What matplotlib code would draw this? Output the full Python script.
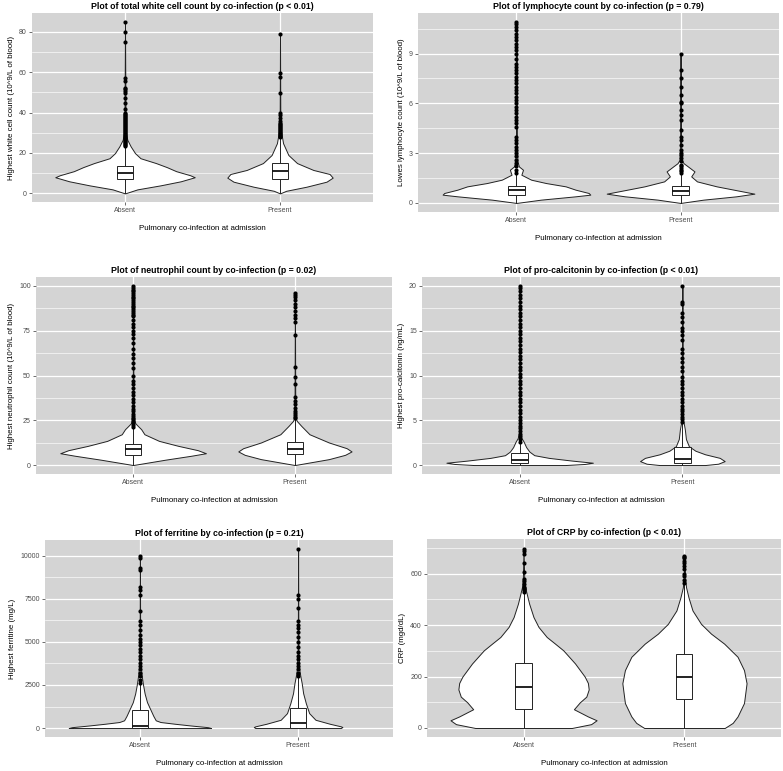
import matplotlib
matplotlib.use("Agg")
import matplotlib.pyplot as plt
import numpy as np

plt.rcParams['font.family'] = ['Liberation Sans', 'DejaVu Sans']

categories = ["Absent", "Present"]
xlabel_text = "Pulmonary co-infection at admission"

# ---------------- Panel 1: white cell count ----------------
wbc_title = "Plot of total white cell count by co-infection (p < 0.01)"
wbc_ylabel = "Highest white cell count (10^9/L of blood)"
wbc_ticks = [0, 20, 40, 60, 80]
wbc_abs_vy = [0, 1, 2, 4, 6, 8, 9, 11, 13, 15, 17.4, 19.9, 23.2, 26.5, 30, 40, 85]
wbc_abs_vw = [0, 0.04, 0.08, 0.23, 0.36, 0.45, 0.42, 0.33, 0.27, 0.2, 0.1, 0.065, 0.037, 0.015, 0.006, 0.003, 0]
wbc_pre_vy = [0, 1.3, 3.3, 5.8, 7.8, 9.6, 11.6, 15, 19, 24.8, 30, 32.3, 40, 79]
wbc_pre_vw = [0, 0.04, 0.17, 0.3, 0.34, 0.32, 0.215, 0.11, 0.054, 0.02, 0.008, 0.004, 0.002, 0]
wbc_abs_box = [0.2, 7.0, 9.9, 13.6, 23.2]
wbc_pre_box = [0.2, 7.1, 11.1, 15.2, 27.5]
wbc_abs_out = [23.5, 24, 24.5, 25, 25.5, 26, 26.5, 27, 27.5, 28, 28.5, 29, 29.5, 30, 30.5, 31, 31.5,
               32, 32.5, 33, 33.5, 34, 34.5, 35, 35.5, 36, 36.5, 37, 37.5, 38, 38.5, 39, 39.5, 40,
               42, 44.5, 47, 49.5, 50.5, 51.5, 52, 55.5, 57, 75, 80, 85]
wbc_pre_out = [28, 28.5, 29, 29.5, 30, 30.5, 31, 31.5, 32, 32.5, 33, 33.5, 34, 34.5, 35, 36, 37.5,
               39, 40, 49.5, 57.5, 59.5, 79]

# ---------------- Panel 2: lymphocyte count ----------------
lym_title = "Plot of lymphocyte count by co-infection (p = 0.79)"
lym_ylabel = "Lowes lymphocyte count (10^9/L of blood)"
lym_ticks = [0, 3, 6, 9]
lym_abs_vy = [0, 0.2, 0.4, 0.5, 0.6, 0.8, 1.0, 1.2, 1.4, 1.7, 2.0, 2.2, 2.5, 4, 10.9]
lym_abs_vw = [0, 0.15, 0.36, 0.45, 0.44, 0.36, 0.3, 0.18, 0.09, 0.03, 0.04, 0.015, 0.006, 0.002, 0]
lym_pre_vy = [0, 0.2, 0.4, 0.56, 0.77, 1.0, 1.3, 1.6, 1.9, 2.2, 2.4, 2.6, 4, 9]
lym_pre_vw = [0, 0.14, 0.34, 0.45, 0.34, 0.22, 0.1, 0.065, 0.085, 0.045, 0.018, 0.006, 0.002, 0]
lym_abs_box = [0.0, 0.5, 0.77, 1.0, 1.75]
lym_pre_box = [0.0, 0.5, 0.7, 1.0, 1.75]
lym_abs_out = [1.8, 2.0, 2.2, 2.4, 2.6, 2.8, 3.0, 3.2, 3.4, 3.6, 3.8, 4.0, 4.6, 4.8, 5.0, 5.2, 5.4,
               5.6, 5.8, 6.0, 6.2, 6.4, 6.6, 6.8, 7.0, 7.2, 7.4, 7.6, 7.8, 8.0, 8.2, 8.4, 8.7, 9.0,
               9.2, 9.4, 9.6, 9.8, 10.0, 10.2, 10.4, 10.6, 10.8, 10.9]
lym_pre_out = [1.8, 1.9, 2.0, 2.1, 2.2, 2.3, 2.5, 2.7, 2.9, 3.0, 3.2, 3.5, 3.8, 4.0, 4.4, 5.0, 5.3,
               5.6, 6.0, 6.1, 6.5, 7.0, 7.5, 8.0, 9.0]

# ---------------- Panel 3: neutrophil count ----------------
neu_title = "Plot of neutrophil count by co-infection (p = 0.02)"
neu_ylabel = "Highest neutrophil count (10^9/L of blood)"
neu_ticks = [0, 25, 50, 75, 100]
neu_abs_vy = [0, 0.9, 3, 5.2, 6.6, 8.3, 10.7, 13.5, 17.2, 20, 21.8, 23.3, 25.5, 40, 100]
neu_abs_vw = [0, 0.06, 0.2, 0.36, 0.45, 0.4, 0.28, 0.16, 0.07, 0.05, 0.03, 0.014, 0.006, 0.002, 0]
neu_pre_vy = [0, 1.1, 3.3, 5.7, 7.6, 9.4, 12.6, 17.2, 21.8, 24.6, 26.4, 40, 96]
neu_pre_vw = [0, 0.07, 0.21, 0.31, 0.35, 0.32, 0.21, 0.09, 0.04, 0.012, 0.004, 0.002, 0]
neu_abs_box = [0.0, 5.7, 8.7, 12.0, 21.0]
neu_pre_box = [0.0, 5.9, 9.2, 13.1, 25.0]
neu_abs_out = [21.5, 22.5, 23.5, 24.5, 25.5, 26.5, 27.5, 28.5, 30, 31.5, 33, 35, 37, 39, 41, 43, 45,
               47, 50, 54, 57, 60, 62, 65, 68, 71, 73, 75, 77, 79, 81, 83, 84, 85, 86, 87, 88, 89,
               90, 91, 92, 93, 94, 95, 96, 97, 98, 99, 100]
neu_pre_out = [26, 27, 28, 29, 30, 32, 34, 36, 38, 45, 49, 55, 72.5, 80, 82, 84, 86, 88, 90, 92, 94,
               95, 96]

# ---------------- Panel 4: pro-calcitonin ----------------
pct_title = "Plot of pro-calcitonin by co-infection (p < 0.01)"
pct_ylabel = "Highest pro-calcitonin (ng/mL)"
pct_ticks = [0, 5, 10, 15, 20]
pct_abs_vy = [0, 0.12, 0.26, 0.5, 0.8, 1.1, 1.5, 2.0, 2.6, 3.0, 3.5, 6, 20]
pct_abs_vw = [0.28, 0.4, 0.45, 0.32, 0.18, 0.09, 0.06, 0.04, 0.025, 0.012, 0.005, 0.002, 0]
pct_pre_vy = [0, 0.15, 0.44, 0.8, 1.2, 1.6, 2.1, 2.9, 4.0, 4.7, 5.4, 8, 20]
pct_pre_vw = [0.14, 0.22, 0.26, 0.23, 0.14, 0.08, 0.04, 0.022, 0.015, 0.008, 0.002, 0.001, 0]
pct_abs_box = [0.0, 0.18, 0.52, 1.3, 2.5]
pct_pre_box = [0.0, 0.18, 0.63, 2.0, 4.7]
pct_abs_out = [2.6, 2.9, 3.2, 3.5, 3.8, 4.1, 4.4, 4.7, 5.0, 5.4, 5.8, 6.2, 6.6, 7.0, 7.4, 7.8, 8.2,
               8.6, 9.0, 9.4, 9.8, 10.2, 10.6, 11.0, 11.4, 11.8, 12.2, 12.6, 13.0, 13.4, 13.8, 14.2,
               14.6, 15.0, 15.4, 15.8, 16.2, 16.6, 17.0, 17.4, 17.8, 18.2, 18.6, 19.0, 19.4, 19.8, 20.0]
pct_pre_out = [4.8, 5.1, 5.4, 5.7, 6.0, 6.3, 6.6, 7.0, 7.4, 7.8, 8.2, 8.6, 9.0, 9.4, 9.8, 10.5, 11,
               11.5, 12, 12.5, 13, 14, 14.5, 15, 15.3, 16, 16.5, 17, 18, 18.2, 20]

# ---------------- Panel 5: ferritine ----------------
fer_title = "Plot of ferritine by co-infection (p = 0.21)"
fer_ylabel = "Highest ferritine (mg/L)"
fer_ticks = [0, 2500, 5000, 7500, 10000]
fer_abs_vy = [0, 50, 150, 250, 350, 450, 700, 1000, 1500, 2000, 2500, 3000, 3500, 4500, 10000]
fer_abs_vw = [0.45, 0.43, 0.32, 0.22, 0.13, 0.1, 0.085, 0.07, 0.045, 0.03, 0.02, 0.012, 0.006, 0.002, 0]
fer_pre_vy = [0, 60, 100, 250, 480, 865, 1440, 2020, 2600, 2980, 3365, 4500, 10400]
fer_pre_vw = [0.27, 0.28, 0.27, 0.2, 0.11, 0.07, 0.049, 0.032, 0.023, 0.015, 0.008, 0.002, 0]
fer_abs_box = [0, 20, 100, 1040, 2570]
fer_pre_box = [0, 20, 290, 1170, 2900]
fer_abs_out = [2600, 2800, 3000, 3200, 3400, 3600, 3800, 4000, 4200, 4400, 4600, 4800, 5000, 5200,
               5400, 5700, 6000, 6200, 6800, 7700, 8000, 8200, 9200, 9300, 9900, 10000]
fer_pre_out = [3000, 3200, 3400, 3600, 3800, 4000, 4200, 4400, 4700, 5000, 5300, 5600, 5800, 6000,
               6200, 7000, 7500, 7700, 10400]

# ---------------- Panel 6: CRP ----------------
crp_title = "Plot of CRP by co-infection (p < 0.01)"
crp_ylabel = "CRP (mgd/dL)"
crp_ticks = [0, 200, 400, 600]
crp_abs_vy = [0, 15, 30, 45, 73, 100, 122, 150, 175, 200, 251, 302, 328, 354, 393, 431, 483, 521, 547, 586, 700]
crp_abs_vw = [0.3, 0.42, 0.454, 0.4, 0.313, 0.35, 0.39, 0.405, 0.4, 0.38, 0.32, 0.247, 0.196, 0.144,
              0.093, 0.062, 0.035, 0.02, 0.01, 0.004, 0]
crp_pre_vy = [0, 20, 45, 97, 174, 225, 277, 328, 367, 405, 457, 508, 547, 586, 670]
crp_pre_vw = [0.25, 0.3, 0.33, 0.37, 0.386, 0.37, 0.33, 0.247, 0.165, 0.103, 0.05, 0.025, 0.01, 0.004, 0]
crp_abs_box = [0, 73, 161, 252, 525]
crp_pre_box = [0, 111, 197, 288, 555]
crp_abs_out = [530, 535, 540, 545, 550, 560, 570, 580, 605, 640, 675, 690, 698]
crp_pre_out = [565, 575, 590, 600, 620, 630, 640, 650, 660, 665, 670]

W, H = 783, 771
fig = plt.figure(figsize=(W / 100, H / 100), dpi=100)

BG = '#D4D4D4'
LINE = '#222222'
TICKC = '#4D4D4D'


def add_panel(px, title, ylabel, ticks, abs_v, pre_v, boxes, outs):
    x0, y0, x1, y1 = px
    ax = fig.add_axes([x0 / W, 1 - y1 / H, (x1 - x0) / W, (y1 - y0) / H])
    ax.set_facecolor(BG)
    for s in ax.spines.values():
        s.set_visible(False)
    lo = min(min(abs_v[0]), min(pre_v[0]))
    hi = max(max(abs_v[0]), max(pre_v[0]))
    rng = hi - lo
    ax.set_yticks(ticks)
    ax.set_yticklabels([str(t) for t in ticks])
    step = ticks[1] - ticks[0]
    minors = [t + step / 2 for t in [ticks[0] - step] + list(ticks)]
    ax.set_yticks(minors, minor=True)
    ax.set_xticks([1, 2])
    ax.set_xticklabels(categories)
    ax.set_ylim(lo - 0.05 * rng, hi + 0.05 * rng)
    ax.set_xlim(0.4, 2.6)
    ax.set_axisbelow(True)
    ax.grid(which='major', axis='both', color='white', lw=0.9)
    ax.grid(which='minor', axis='y', color='white', lw=0.45)
    ax.tick_params(which='minor', length=0)
    ax.tick_params(which='major', length=2.2, width=0.5, color='#333333',
                   labelsize=5.0, labelcolor=TICKC, pad=1.5)
    for i, (vy, vw) in enumerate([abs_v, pre_v]):
        xc = i + 1
        vy = np.asarray(vy, float)
        vw = np.asarray(vw, float)
        ax.fill_betweenx(vy, xc - vw, xc + vw, facecolor='white', edgecolor=LINE, lw=0.7, zorder=2)
        wlo, q1, med, q3, whi = boxes[i]
        bw = 0.05
        ax.plot([xc, xc], [q3, whi], color=LINE, lw=0.7, zorder=3)
        ax.plot([xc, xc], [wlo, q1], color=LINE, lw=0.7, zorder=3)
        ax.add_patch(plt.Rectangle((xc - bw, q1), 2 * bw, q3 - q1, facecolor='white',
                                   edgecolor=LINE, lw=0.7, zorder=3))
        ax.plot([xc - bw, xc + bw], [med, med], color='#111111', lw=1.3, zorder=4,
                solid_capstyle='butt')
        ax.plot([xc] * len(outs[i]), outs[i], 'o', color='black', ms=3.0, mew=0, zorder=5)
    ax.set_title(title, fontsize=6.3, fontweight='bold', pad=3)
    ax.set_ylabel(ylabel, fontsize=5.7, labelpad=3)
    ax.set_xlabel(xlabel_text, fontsize=5.7, labelpad=8)
    return ax


add_panel((32, 13, 373, 202), wbc_title, wbc_ylabel, wbc_ticks,
          (wbc_abs_vy, wbc_abs_vw), (wbc_pre_vy, wbc_pre_vw),
          (wbc_abs_box, wbc_pre_box), (wbc_abs_out, wbc_pre_out))
add_panel((418, 13, 779, 212), lym_title, lym_ylabel, lym_ticks,
          (lym_abs_vy, lym_abs_vw), (lym_pre_vy, lym_pre_vw),
          (lym_abs_box, lym_pre_box), (lym_abs_out, lym_pre_out))
add_panel((36, 277, 392, 474), neu_title, neu_ylabel, neu_ticks,
          (neu_abs_vy, neu_abs_vw), (neu_pre_vy, neu_pre_vw),
          (neu_abs_box, neu_pre_box), (neu_abs_out, neu_pre_out))
add_panel((422, 277, 780, 474), pct_title, pct_ylabel, pct_ticks,
          (pct_abs_vy, pct_abs_vw), (pct_pre_vy, pct_pre_vw),
          (pct_abs_box, pct_pre_box), (pct_abs_out, pct_pre_out))
add_panel((45, 540, 393, 737), fer_title, fer_ylabel, fer_ticks,
          (fer_abs_vy, fer_abs_vw), (fer_pre_vy, fer_pre_vw),
          (fer_abs_box, fer_pre_box), (fer_abs_out, fer_pre_out))
add_panel((427, 539, 781, 737), crp_title, crp_ylabel, crp_ticks,
          (crp_abs_vy, crp_abs_vw), (crp_pre_vy, crp_pre_vw),
          (crp_abs_box, crp_pre_box), (crp_abs_out, crp_pre_out))

fig.savefig("out.png", dpi=100)
